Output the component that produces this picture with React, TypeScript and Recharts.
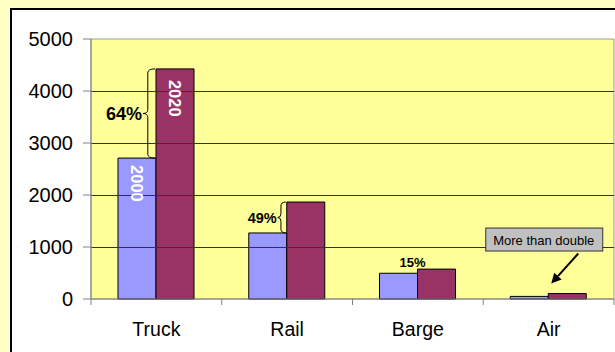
import { Bar, BarChart, LabelList, ReferenceArea, ReferenceLine, XAxis, YAxis } from "recharts";

const categories = ["Truck", "Rail", "Barge", "Air"];
const values2000 = [2710, 1270, 495, 50];
const values2020 = [4425, 1865, 575, 105];
const yTicks = [0, 1000, 2000, 3000, 4000, 5000];
const gridValues = [1000, 2000, 3000, 4000];
const growthLabels = ["64%", "49%", "15%", ""];
const calloutText = "More than double";

const data = categories.map((name, i) => ({
  name,
  y2000: values2000[i],
  y2020: values2020[i],
}));

const FONT = '"Liberation Sans", Arial, sans-serif';

function box(props: any) {
  const vb = props.viewBox ?? props;
  return {
    x: Number(vb.x ?? props.x),
    y: Number(vb.y ?? props.y),
    w: Number(vb.width ?? props.width),
    h: Number(vb.height ?? props.height),
  };
}

function bracePath(xr: number, yt: number, yb: number, d: number): string {
  const xv = xr - d * 0.6;
  const ym = (yt + yb) / 2;
  const r = 4;
  return [
    `M${xr},${yt}`,
    `Q${xv},${yt} ${xv},${yt + r}`,
    `L${xv},${ym - r}`,
    `Q${xv},${ym} ${xr - d},${ym}`,
    `Q${xv},${ym} ${xv},${ym + r}`,
    `L${xv},${yb - r}`,
    `Q${xv},${yb} ${xr},${yb}`,
  ].join(" ");
}

// crisp 1px grid line
function GridLine(props: any) {
  const y = Math.round(Number(props.y1)) + 0.5;
  return <line x1={props.x1} x2={props.x2} y1={y} y2={y} stroke="#333" strokeWidth={1} />;
}

function BraceLabel(props: any) {
  const i = props.index;
  if (i !== 0 && i !== 1) return null;
  const { x, y, h } = box(props);
  const perUnit = h / values2020[i];
  const yLow = y + h - values2000[i] * perUnit;
  const d = i === 0 ? 12 : 8;
  const xr = x - 1;
  const ym = (y + yLow) / 2;
  return (
    <g>
      <path d={bracePath(xr, y, yLow, d)} fill="none" stroke="#000" strokeWidth={1} />
      <text
        x={xr - d - 1}
        y={ym + 1}
        textAnchor="end"
        dominantBaseline="central"
        fontFamily={FONT}
        fontWeight="bold"
        fontSize={i === 0 ? 18 : 14.5}
        fill="#000"
      >
        {growthLabels[i]}
      </text>
    </g>
  );
}

function BarYearLabel(year: string, pad: number) {
  return (props: any) => {
    if (props.index !== 0) return null;
    const { x, y, w } = box(props);
    const cx = x + w / 2;
    const ty = y + pad;
    return (
      <text
        x={cx}
        y={ty}
        transform={`rotate(90 ${cx} ${ty})`}
        textAnchor="start"
        dominantBaseline="central"
        fontFamily={FONT}
        fontWeight="bold"
        fontSize={16.5}
        fill="#fff"
      >
        {year}
      </text>
    );
  };
}

function BargeLabel(props: any) {
  if (props.index !== 2) return null;
  const { x, y, w } = box(props);
  return (
    <text
      x={x + w - 5}
      y={y - 6}
      textAnchor="middle"
      fontFamily={FONT}
      fontWeight="bold"
      fontSize={13}
      fill="#000"
    >
      {growthLabels[2]}
    </text>
  );
}

function Callout(props: any) {
  if (props.index !== 3) return null;
  const { x, y } = box(props);
  const bx = x - 63;
  const by = y - 66;
  const bw = 117;
  const bh = 23;
  const x1 = x + 30;
  const y1 = y - 40;
  const x2 = x + 3;
  const y2 = y - 10;
  const ang = Math.atan2(y2 - y1, x2 - x1);
  const hl = 10;
  const hw = 5;
  const bxh = x2 - hl * Math.cos(ang);
  const byh = y2 - hl * Math.sin(ang);
  const p1 = `${bxh + hw * Math.sin(ang)},${byh - hw * Math.cos(ang)}`;
  const p2 = `${bxh - hw * Math.sin(ang)},${byh + hw * Math.cos(ang)}`;
  return (
    <g>
      <rect x={bx + 0.5} y={by + 0.5} width={bw} height={bh} fill="#C0C0C0" stroke="#333" strokeWidth={1} />
      <text
        x={bx + bw / 2}
        y={by + bh / 2 + 1}
        textAnchor="middle"
        dominantBaseline="central"
        fontFamily={FONT}
        fontSize={13}
        fill="#000"
      >
        {calloutText}
      </text>
      <line x1={x1} y1={y1} x2={bxh} y2={byh} stroke="#000" strokeWidth={2} />
      <polygon points={`${x2},${y2} ${p1} ${p2}`} fill="#000" />
    </g>
  );
}

function CategoryTick(props: any) {
  const { x, y, payload, index } = props;
  const off = payload?.offset ?? 65.4;
  const last = index === categories.length - 1;
  return (
    <g>
      <line x1={x - off} y1={y} x2={x - off} y2={y + 6} stroke="#808080" />
      {last ? <line x1={x + off} y1={y} x2={x + off} y2={y + 6} stroke="#808080" /> : null}
      <text x={x} y={y + 37} textAnchor="middle" fontFamily={FONT} fontSize={19.5} fill="#000">
        {payload.value}
      </text>
    </g>
  );
}

export default function App() {
  return (
    <div
      style={{
        position: "fixed",
        left: 0,
        top: 0,
        width: 615,
        height: 352,
        overflow: "hidden",
        background: "#FFFFC4",
      }}
    >
      <div
        style={{
          position: "absolute",
          left: 10,
          top: 8,
          width: 700,
          height: 400,
          border: "2px solid #000",
          background: "#fff",
        }}
      />
      <div style={{ position: "absolute", left: 0, top: 0 }}>
        <BarChart
          width={615}
          height={352}
          data={data}
          margin={{ top: 39, right: 1, left: 0, bottom: 0 }}
          barGap={0}
          barSize={38}
        >
          <XAxis
            dataKey="name"
            height={53}
            stroke="#808080"
            tickLine={false}
            tickSize={0}
            tickMargin={0}
            tick={<CategoryTick />}
            interval={0}
          />
          <YAxis
            width={91}
            domain={[0, 5000]}
            ticks={yTicks}
            stroke="#808080"
            tickSize={8}
            tickMargin={10}
            tickLine={{ stroke: "#808080" }}
            tick={{ fontSize: 20, fill: "#000", fontFamily: FONT }}
            interval={0}
          />
          <ReferenceArea y1={0} y2={5000} fill="#FFFF99" fillOpacity={1} stroke="#999" strokeWidth={1} />
          {gridValues.map((v) => (
            <ReferenceLine key={v} y={v} shape={GridLine} />
          ))}
          <Bar dataKey="y2000" fill="#9999FF" stroke="#000" strokeWidth={1} isAnimationActive={false}>
            <LabelList dataKey="y2000" content={BarYearLabel("2000", 7)} />
            <LabelList dataKey="y2000" content={BargeLabel} />
          </Bar>
          <Bar dataKey="y2020" fill="#993366" stroke="#000" strokeWidth={1} isAnimationActive={false}>
            <LabelList dataKey="y2020" content={BarYearLabel("2020", 11)} />
            <LabelList dataKey="y2020" content={BraceLabel} />
            <LabelList dataKey="y2020" content={Callout} />
          </Bar>
        </BarChart>
      </div>
    </div>
  );
}
